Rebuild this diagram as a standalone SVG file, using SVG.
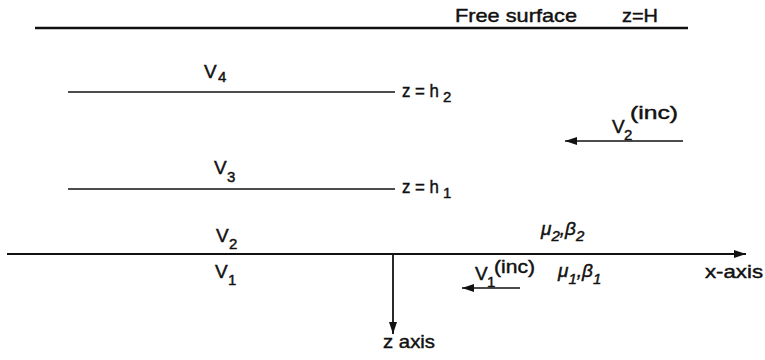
<svg xmlns="http://www.w3.org/2000/svg" width="765" height="360" viewBox="0 0 765 360">
<style>
.t{font-family:"Liberation Sans","DejaVu Sans",sans-serif;font-size:19px;fill:#111;stroke:#111;stroke-width:0.45px}
.s{font-size:15px}
.g{font-style:italic}
.ln{stroke:#111;fill:none;stroke-linecap:butt}
</style>
<defs>
<marker id="ah" viewBox="0 0 12 8" refX="12" refY="4" markerWidth="12" markerHeight="8" markerUnits="userSpaceOnUse" orient="auto">
<path d="M0,0 L12,4 L0,8 Z" fill="#111"/>
</marker>
</defs>
<rect width="765" height="360" fill="#fff"/>
<g id="connectors">
<line class="ln" x1="35" y1="28" x2="688" y2="28" stroke-width="2.5"/>
<line class="ln" x1="68" y1="92" x2="395" y2="92" stroke-width="1.6"/>
<line class="ln" x1="68" y1="189" x2="395" y2="189" stroke-width="1.6"/>
<line class="ln" x1="7" y1="254" x2="746" y2="254" stroke-width="2" marker-end="url(#ah)"/>
<line class="ln" x1="393" y1="254" x2="393" y2="334" stroke-width="1.8" marker-end="url(#ah)"/>
<line class="ln" x1="683" y1="141" x2="565" y2="141" stroke-width="1.6" marker-end="url(#ah)"/>
<line class="ln" x1="520" y1="288" x2="462" y2="288" stroke-width="1.6" marker-end="url(#ah)"/>
</g>
<g id="free-surface">
<text class="t" x="455" y="22" textLength="122" lengthAdjust="spacingAndGlyphs">Free surface</text>
<text class="t" x="622" y="22" textLength="36" lengthAdjust="spacingAndGlyphs">z=H</text>
</g>
<g id="interface-h2">
<text class="t" x="402" y="97" textLength="37" lengthAdjust="spacingAndGlyphs">z = h</text>
<text class="t s" x="443" y="102">2</text>
</g>
<g id="interface-h1">
<text class="t" x="402" y="193" textLength="37" lengthAdjust="spacingAndGlyphs">z = h</text>
<text class="t s" x="443" y="198">1</text>
</g>
<g id="layer-V4">
<text class="t" x="204" y="78">V</text>
<text class="t s" x="218" y="82">4</text>
</g>
<g id="layer-V3">
<text class="t" x="214" y="174">V</text>
<text class="t s" x="227" y="182">3</text>
</g>
<g id="layer-V2">
<text class="t" x="216" y="242">V</text>
<text class="t s" x="229" y="249">2</text>
</g>
<g id="layer-V1">
<text class="t" x="215" y="278">V</text>
<text class="t s" x="228" y="285">1</text>
</g>
<g id="V2-inc">
<text class="t" x="612" y="133">V</text>
<text class="t s" x="624" y="140">2</text>
<text class="t" x="630" y="119" textLength="48" lengthAdjust="spacingAndGlyphs">(inc)</text>
</g>
<g id="V1-inc">
<text class="t" x="475" y="280">V</text>
<text class="t s" x="487" y="287">1</text>
<text class="t" x="494" y="273" textLength="41" lengthAdjust="spacingAndGlyphs">(inc)</text>
</g>
<g id="mu2-beta2">
<text class="t g" x="541" y="235">μ<tspan class="s" dy="6">2</tspan><tspan dy="-6">,β</tspan><tspan class="s" dy="6">2</tspan></text>
</g>
<g id="mu1-beta1">
<text class="t g" x="558" y="277">μ<tspan class="s" dy="7">1</tspan><tspan dy="-7">,β</tspan><tspan class="s" dy="7">1</tspan></text>
</g>
<g id="x-axis-label">
<text class="t" x="705" y="278" textLength="58" lengthAdjust="spacingAndGlyphs">x-axis</text>
</g>
<g id="z-axis-label">
<text class="t" x="383" y="348" textLength="52" lengthAdjust="spacingAndGlyphs">z axis</text>
</g>
</svg>
